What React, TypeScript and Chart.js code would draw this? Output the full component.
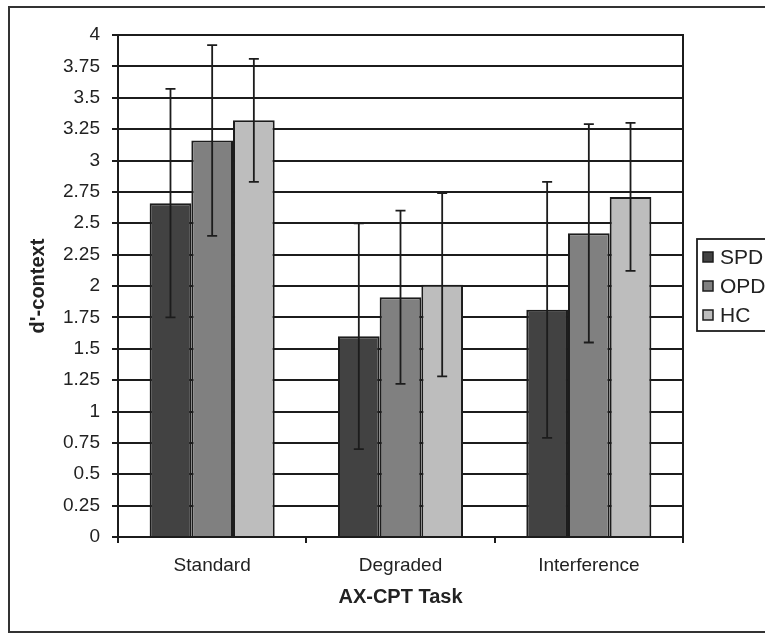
import React, { useEffect, useRef } from "react";
import { Chart, registerables } from "chart.js";

Chart.register(...registerables);

const categories = ["Standard", "Degraded", "Interference"];
const seriesNames = ["SPD", "OPD", "HC"];
const spdValues = [2.66, 1.6, 1.81];
const opdValues = [3.16, 1.91, 2.42];
const hcValues = [3.32, 2.01, 2.71];
const spdErrors = [0.91, 0.9, 1.02];
const opdErrors = [0.76, 0.69, 0.87];
const hcErrors = [0.49, 0.73, 0.59];
const seriesColors = ["#424242", "#808080", "#bdbdbd"];
const yTickLabels = ["0", "0.25", "0.5", "0.75", "1", "1.25", "1.5", "1.75", "2", "2.25", "2.5", "2.75", "3", "3.25", "3.5", "3.75", "4"];

const FONT = "'Liberation Sans', Arial, sans-serif";
const INK = "#1c1c1c";

const errorBarPlugin = {
  id: "errorBars",
  afterDatasetsDraw(chart: any) {
    const { ctx } = chart;
    const y = chart.scales.y;
    ctx.save();
    ctx.strokeStyle = INK;
    ctx.lineWidth = 1.8;
    chart.data.datasets.forEach((ds: any, i: number) => {
      const meta = chart.getDatasetMeta(i);
      meta.data.forEach((bar: any, j: number) => {
        const v = ds.data[j];
        const e = ds.errors[j];
        const yTop = y.getPixelForValue(v + e);
        const yBot = y.getPixelForValue(v - e);
        const x = bar.x;
        ctx.beginPath();
        ctx.moveTo(x, yTop);
        ctx.lineTo(x, yBot);
        ctx.moveTo(x - 5, yTop);
        ctx.lineTo(x + 5, yTop);
        ctx.moveTo(x - 5, yBot);
        ctx.lineTo(x + 5, yBot);
        ctx.stroke();
      });
    });
    ctx.restore();
  },
};

const framePlugin = {
  id: "frameAndLegend",
  beforeDraw(chart: any) {
    const { ctx } = chart;
    ctx.save();
    ctx.fillStyle = "#fff";
    ctx.fillRect(0, 0, chart.width, chart.height);
    ctx.restore();
  },
  afterDraw(chart: any) {
    const { ctx, chartArea } = chart;
    ctx.save();
    // outer frame
    ctx.strokeStyle = "#333";
    ctx.lineWidth = 2;
    ctx.strokeRect(9, 7, chart.width + 20, 625);
    // right border of plot area
    ctx.strokeStyle = INK;
    ctx.lineWidth = 2;
    ctx.beginPath();
    ctx.moveTo(chartArea.right, chartArea.top - 1);
    ctx.lineTo(chartArea.right, chartArea.bottom);
    ctx.stroke();
    // legend
    ctx.strokeStyle = INK;
    ctx.lineWidth = 1.8;
    ctx.strokeRect(697, 239, 100, 92);
    const rows = [257, 286, 315];
    ctx.font = `21px ${FONT}`;
    ctx.textBaseline = "middle";
    ctx.textAlign = "left";
    chart.data.datasets.forEach((ds: any, i: number) => {
      const cy = rows[i];
      ctx.fillStyle = ds.backgroundColor;
      ctx.fillRect(703, cy - 5, 10, 10);
      ctx.lineWidth = 1.5;
      ctx.strokeStyle = INK;
      ctx.strokeRect(703, cy - 5, 10, 10);
      ctx.fillStyle = "#222";
      ctx.fillText(ds.label, 720, cy + 1);
    });
    ctx.restore();
  },
};

export default function App() {
  const ref = useRef<HTMLCanvasElement | null>(null);
  useEffect(() => {
    if (!ref.current) return;
    const valuesList = [spdValues, opdValues, hcValues];
    const errorsList = [spdErrors, opdErrors, hcErrors];
    const chart = new Chart(ref.current, {
      type: "bar",
      data: {
        labels: categories,
        datasets: seriesNames.map((name, i) => ({
          label: name,
          data: valuesList[i],
          errors: errorsList[i],
          backgroundColor: seriesColors[i],
          borderColor: INK,
          borderWidth: 2,
          barPercentage: 1,
          categoryPercentage: 0.664,
        })) as any,
      },
      options: {
        animation: false,
        responsive: false,
        maintainAspectRatio: false,
        layout: { padding: { left: 10, right: 82, top: 35, bottom: 0 } },
        plugins: {
          legend: { display: false },
          tooltip: { enabled: false },
        },
        scales: {
          x: {
            afterFit(scale: any) {
              scale.height = 96;
            },
            grid: {
              display: true,
              drawOnChartArea: false,
              drawTicks: true,
              tickLength: 6,
              color: INK,
              lineWidth: 2,
              offset: true,
            },
            border: { display: true, color: INK, width: 2 },
            ticks: {
              color: "#222",
              font: { family: FONT, size: 19 },
              padding: 11,
            },
            title: {
              display: true,
              text: "AX-CPT Task",
              color: "#222",
              font: { family: FONT, size: 20, weight: "bold" },
              padding: { top: 0, bottom: 24 },
            },
          },
          y: {
            min: 0,
            max: 4,
            afterFit(scale: any) {
              scale.width = 108;
            },
            afterBuildTicks(scale: any) {
              scale.ticks = yTickLabels.map((t) => ({ value: parseFloat(t) }));
            },
            grid: {
              color: INK,
              lineWidth: 2,
              tickLength: 6,
              drawTicks: true,
            },
            border: { display: true, color: INK, width: 2 },
            ticks: {
              color: "#222",
              font: { family: FONT, size: 19 },
              padding: 12,
              callback: (_v: any, idx: number) => yTickLabels[idx],
            },
            title: {
              display: true,
              text: "d'-context",
              color: "#222",
              font: { family: FONT, size: 20, weight: "bold" },
              padding: { top: 16, bottom: 0 },
            },
          },
        },
      } as any,
      plugins: [errorBarPlugin, framePlugin],
    });
    return () => chart.destroy();
  }, []);
  return (
    <div style={{ position: "fixed", left: 0, top: 0, width: 765, height: 633, background: "#fff" }}>
      <canvas ref={ref} width={765} height={633} style={{ display: "block", width: 765, height: 633 }} />
    </div>
  );
}
